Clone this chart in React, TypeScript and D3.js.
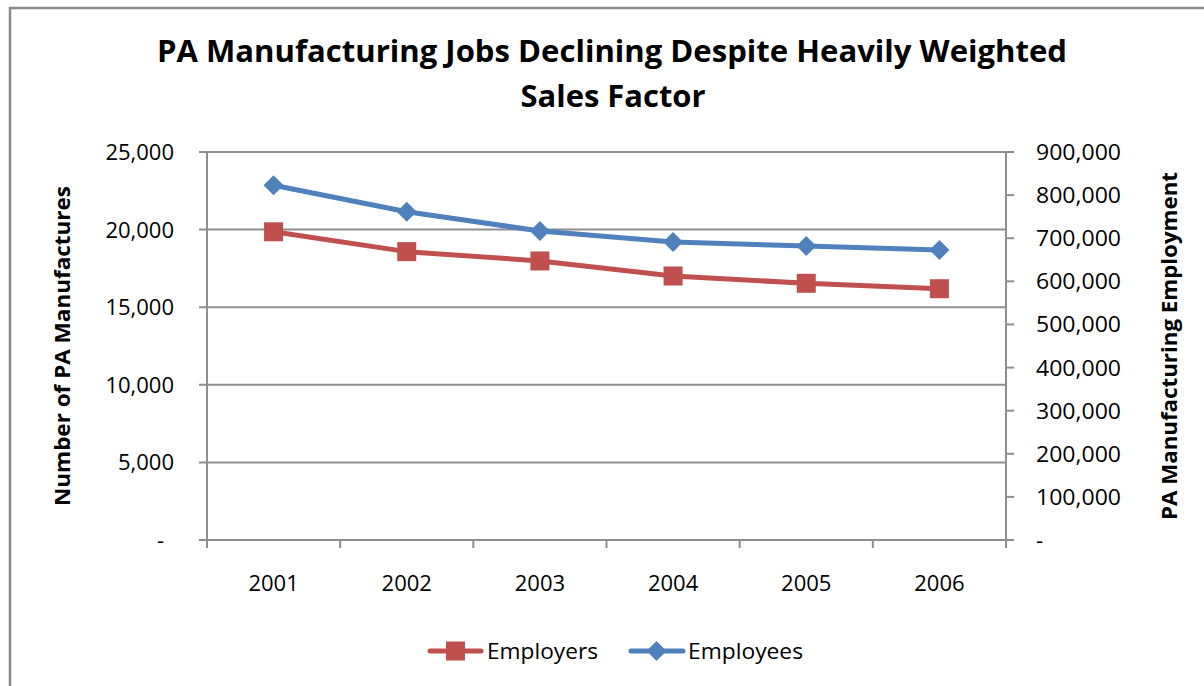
import React from 'react';
import * as d3 from 'd3';

// Chart data
const years = ['2001', '2002', '2003', '2004', '2005', '2006'];
const employers = [19860, 18580, 17980, 17010, 16540, 16190];
const employees = [823000, 761500, 716800, 691200, 682000, 672700];
const leftTicks = [0, 5000, 10000, 15000, 20000, 25000];
const rightTicks = [0, 100000, 200000, 300000, 400000, 500000, 600000, 700000, 800000, 900000];

const W = 1204;
const H = 686;
const plot = { left: 207, right: 1006, top: 152, bottom: 540 };

const RED = '#C0504D';
const BLUE = '#4F81BD';
const GRID = '#8E8E8E';
const FONT = "'Open Sans', 'Noto Sans', sans-serif";

const fmt = (v: number) => (v === 0 ? '-' : d3.format(',')(v));

const App: React.FC = () => {
  const x = d3.scaleBand<string>().domain(years).range([plot.left, plot.right]).paddingInner(0).paddingOuter(0);
  const yL = d3.scaleLinear().domain([0, 25000]).range([plot.bottom, plot.top]);
  const yR = d3.scaleLinear().domain([0, 900000]).range([plot.bottom, plot.top]);
  const cx = (d: string) => (x(d) ?? 0) + x.bandwidth() / 2;

  const lineL = d3.line<number>().x((_, i) => cx(years[i])).y(d => yL(d));
  const lineR = d3.line<number>().x((_, i) => cx(years[i])).y(d => yR(d));

  const boundaries = [...years.map(d => x(d) ?? 0), plot.right];
  const sq = 19;
  const dm = 10;

  return (
    <svg width={W} height={H} viewBox={`0 0 ${W} ${H}`}
      style={{ position: 'absolute', left: 0, top: 0, background: '#fff' }}>
      {/* outer chart frame */}
      <rect x={10} y={8} width={1220} height={700} fill="#fff" stroke="#8a8a8a" strokeWidth={2.5} />

      {/* title */}
      <text x={612} y={62} textAnchor="middle" fontFamily={FONT} fontWeight="bold" fontSize={30}
        textLength={910} lengthAdjust="spacingAndGlyphs" fill="#000">
        PA Manufacturing Jobs Declining Despite Heavily Weighted
      </text>
      <text x={613} y={107} textAnchor="middle" fontFamily={FONT} fontWeight="bold" fontSize={30}
        textLength={185} lengthAdjust="spacingAndGlyphs" fill="#000">
        Sales Factor
      </text>

      {/* horizontal gridlines */}
      {leftTicks.map(t => (
        <line key={'g' + t} x1={plot.left - 8} x2={plot.right} y1={yL(t)} y2={yL(t)} stroke={GRID} strokeWidth={2} />
      ))}

      {/* axes */}
      <line x1={plot.left} x2={plot.left} y1={plot.top} y2={plot.bottom + 8} stroke={GRID} strokeWidth={2} />
      <line x1={plot.right} x2={plot.right} y1={plot.top} y2={plot.bottom + 8} stroke={GRID} strokeWidth={2} />
      {boundaries.map((b, i) => (
        <line key={'xt' + i} x1={b} x2={b} y1={plot.bottom} y2={plot.bottom + 8} stroke={GRID} strokeWidth={2} />
      ))}
      {rightTicks.map(t => (
        <line key={'rt' + t} x1={plot.right} x2={plot.right + 8} y1={yR(t)} y2={yR(t)} stroke={GRID} strokeWidth={2} />
      ))}

      {/* left tick labels */}
      {leftTicks.map(t => (
        <text key={'ll' + t} x={t === 0 ? 164 : 174} y={yL(t) + 8} textAnchor="end" fontFamily={FONT} fontSize={22} fill="#000">
          {fmt(t)}
        </text>
      ))}
      {/* right tick labels */}
      {rightTicks.map(t => (
        <text key={'rl' + t} x={1036} y={yR(t) + 8} textAnchor="start" fontFamily={FONT} fontSize={22} fill="#000"
          textLength={t === 0 ? undefined : 85} lengthAdjust="spacingAndGlyphs">
          {fmt(t)}
        </text>
      ))}
      {/* x labels */}
      {years.map(y => (
        <text key={'xl' + y} x={cx(y)} y={591} textAnchor="middle" fontFamily={FONT} fontSize={22} fill="#000">
          {y}
        </text>
      ))}

      {/* axis titles */}
      <text transform={`translate(70, ${(plot.top + plot.bottom) / 2}) rotate(-90)`} textAnchor="middle"
        fontFamily={FONT} fontWeight="bold" fontSize={22} textLength={320} lengthAdjust="spacingAndGlyphs" fill="#000">
        Number of PA Manufactures
      </text>
      <text transform={`translate(1177, ${(plot.top + plot.bottom) / 2}) rotate(-90)`} textAnchor="middle"
        fontFamily={FONT} fontWeight="bold" fontSize={22} textLength={348} lengthAdjust="spacingAndGlyphs" fill="#000">
        PA Manufacturing Employment
      </text>

      {/* series */}
      <path d={lineR(employees) ?? ''} fill="none" stroke={BLUE} strokeWidth={5} strokeLinejoin="round" strokeLinecap="round" />
      <path d={lineL(employers) ?? ''} fill="none" stroke={RED} strokeWidth={5} strokeLinejoin="round" strokeLinecap="round" />
      {employees.map((v, i) => {
        const px = cx(years[i]);
        const py = yR(v);
        return <path key={'d' + i} d={`M${px},${py - dm}L${px + dm},${py}L${px},${py + dm}L${px - dm},${py}Z`} fill={BLUE} />;
      })}
      {employers.map((v, i) => (
        <rect key={'s' + i} x={cx(years[i]) - sq / 2} y={yL(v) - sq / 2} width={sq} height={sq} fill={RED} />
      ))}

      {/* legend */}
      <line x1={430} x2={481} y1={651} y2={651} stroke={RED} strokeWidth={5} strokeLinecap="round" />
      <rect x={455.5 - sq / 2} y={651 - sq / 2} width={sq} height={sq} fill={RED} />
      <text x={487} y={659} fontFamily={FONT} fontSize={22} fill="#000" textLength={111} lengthAdjust="spacingAndGlyphs">Employers</text>
      <line x1={631} x2={683} y1={651} y2={651} stroke={BLUE} strokeWidth={5} strokeLinecap="round" />
      <path d={`M656.5,${651 - dm}L${656.5 + dm},651L656.5,${651 + dm}L${656.5 - dm},651Z`} fill={BLUE} />
      <text x={688} y={659} fontFamily={FONT} fontSize={22} fill="#000" textLength={115} lengthAdjust="spacingAndGlyphs">Employees</text>
    </svg>
  );
};

export default App;
